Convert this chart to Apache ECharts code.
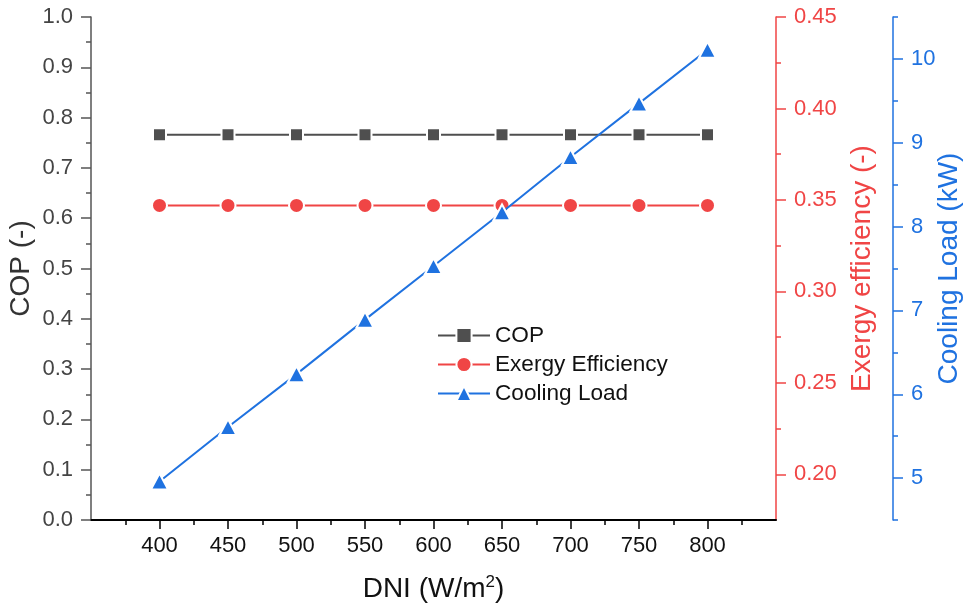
<!DOCTYPE html>
<html>
<head>
<meta charset="utf-8">
<script src="https://cdn.jsdelivr.net/npm/echarts@6/dist/echarts.min.js"></script>
<style>
html,body{margin:0;padding:0;background:#fff;overflow:hidden;width:966px;height:612px;}
#chart{width:966px;height:612px;overflow:hidden;}
</style>
</head>
<body>
<div id="chart"></div>
<script>
// ---- data ----
var dni = [400, 450, 500, 550, 600, 650, 700, 750, 800];
var cop = [0.766, 0.766, 0.766, 0.766, 0.766, 0.766, 0.766, 0.766, 0.766];
var exergy = [0.347, 0.347, 0.347, 0.347, 0.347, 0.347, 0.347, 0.347, 0.347];
var coolingLoad = [4.96, 5.61, 6.24, 6.89, 7.53, 8.17, 8.83, 9.47, 10.11];

// ---- tick labels ----
var dniTicks = [400, 450, 500, 550, 600, 650, 700, 750, 800];
var dniMinorTicks = [375, 425, 475, 525, 575, 625, 675, 725, 775, 825];
var exTicks = [0.20, 0.25, 0.30, 0.35, 0.40, 0.45];
var exMinorTicks = [0.225, 0.275, 0.325, 0.375, 0.425];
var clTicks = [5, 6, 7, 8, 9, 10];
var clMinorTicks = [4.5, 5.5, 6.5, 7.5, 8.5, 9.5, 10.5];

var FONT = '"Liberation Sans", Arial, sans-serif';
var GREY = '#4f4f4f';
var RED = '#f04545';
var BLUE = '#1f72e0';

function pairs(xs, ys) { return xs.map(function (x, i) { return [x, ys[i]]; }); }

var chart = echarts.init(document.getElementById('chart'), null, {renderer: 'canvas', width: 966, height: 612});
var option = {
  animation: false,
  backgroundColor: '#fff',
  textStyle: {fontFamily: FONT},
  grid: {left: 91, right: 190, top: 17, bottom: 92, containLabel: false, outerBoundsMode: 'none'},
  legend: {
    orient: 'vertical',
    left: 432, top: 319,
    itemWidth: 52, itemHeight: 19, itemGap: 6,
    textStyle: {fontFamily: FONT, fontSize: 22.6, color: '#111'},
    data: ['COP', 'Exergy Efficiency', 'Cooling Load']
  },
  xAxis: [{
    type: 'value', min: 350, max: 850, position: 'bottom',
    name: 'DNI (W/m{sup|2})', nameLocation: 'middle', nameGap: 54, nameMoveOverlap: false,
    nameTextStyle: {fontFamily: FONT, fontSize: 28, color: '#111',
      rich: {sup: {fontFamily: FONT, fontSize: 17, color: '#111', verticalAlign: 'top', padding: [0, 0, 14, 0]}}},
    axisLine: {show: true, onZero: false, lineStyle: {color: '#000', width: 2}},
    axisTick: {show: true, inside: false, length: 9, customValues: dniTicks, lineStyle: {color: '#000', width: 1.5}},
    axisLabel: {show: true, customValues: dniTicks, margin: 15, fontFamily: FONT, fontSize: 22, color: '#111'},
    splitLine: {show: false}
  }, {
    type: 'value', min: 350, max: 850, position: 'bottom',
    axisLine: {show: false},
    axisTick: {show: true, inside: false, length: 5, customValues: dniMinorTicks, lineStyle: {color: '#000', width: 1.5}},
    axisLabel: {show: false},
    splitLine: {show: false}
  }],
  yAxis: [{
    type: 'value', min: 0, max: 1, interval: 0.1, position: 'left',
    name: 'COP (-)', nameLocation: 'middle', nameGap: 56, nameRotate: 90, nameMoveOverlap: false,
    nameTextStyle: {fontFamily: FONT, fontSize: 28, color: '#333'},
    axisLine: {show: true, onZero: false, lineStyle: {color: '#555', width: 1.5}},
    axisTick: {show: true, inside: false, length: 10, lineStyle: {color: '#555', width: 1.5}},
    minorTick: {show: true, splitNumber: 2, length: 5, lineStyle: {color: '#555', width: 1.5}},
    axisLabel: {margin: 18, fontFamily: FONT, fontSize: 22, color: '#444',
      formatter: function (v) { return v.toFixed(1); }},
    splitLine: {show: false}, minorSplitLine: {show: false}
  }, {
    type: 'value', min: 0.175, max: 0.45, position: 'right', offset: 0,
    name: 'Exergy efficiency (-)', nameLocation: 'middle', nameGap: 72, nameRotate: 90, nameMoveOverlap: false,
    nameTextStyle: {fontFamily: FONT, fontSize: 28, color: RED},
    axisLine: {show: true, onZero: false, lineStyle: {color: RED, width: 1.5}},
    axisTick: {show: true, inside: false, length: 10, customValues: exTicks, lineStyle: {color: RED, width: 1.5}},
    axisLabel: {customValues: exTicks, margin: 18, fontFamily: FONT, fontSize: 22, color: RED,
      formatter: function (v) { return v.toFixed(2); }},
    splitLine: {show: false}
  }, {
    type: 'value', min: 0.175, max: 0.45, position: 'right', offset: 0,
    axisLine: {show: false},
    axisTick: {show: true, inside: false, length: 5, customValues: exMinorTicks, lineStyle: {color: RED, width: 1.5}},
    axisLabel: {show: false},
    splitLine: {show: false}
  }, {
    type: 'value', min: 4.5, max: 10.5, position: 'right', offset: 117,
    name: 'Cooling Load (kW)', nameLocation: 'middle', nameGap: 42, nameRotate: 90, nameMoveOverlap: false,
    nameTextStyle: {fontFamily: FONT, fontSize: 28, color: BLUE},
    axisLine: {show: true, onZero: false, lineStyle: {color: BLUE, width: 1.5}},
    axisTick: {show: true, inside: false, length: 10, customValues: clTicks, lineStyle: {color: BLUE, width: 1.5}},
    axisLabel: {customValues: clTicks, margin: 18, fontFamily: FONT, fontSize: 22, color: BLUE},
    splitLine: {show: false}
  }, {
    type: 'value', min: 4.5, max: 10.5, position: 'right', offset: 117,
    axisLine: {show: false},
    axisTick: {show: true, inside: false, length: 5, customValues: clMinorTicks, lineStyle: {color: BLUE, width: 1.5}},
    axisLabel: {show: false},
    splitLine: {show: false}
  }],
  series: [{
    name: 'COP', type: 'line', xAxisIndex: 0, yAxisIndex: 0,
    data: pairs(dni, cop),
    symbol: 'rect', symbolSize: 13,
    lineStyle: {color: GREY, width: 2},
    itemStyle: {color: GREY, borderColor: '#fff', borderWidth: 2},
    z: 3
  }, {
    name: 'Exergy Efficiency', type: 'line', xAxisIndex: 0, yAxisIndex: 1,
    data: pairs(dni, exergy),
    symbol: 'circle', symbolSize: 15,
    lineStyle: {color: RED, width: 2},
    itemStyle: {color: RED, borderColor: '#fff', borderWidth: 2},
    z: 4
  }, {
    name: 'Cooling Load', type: 'line', xAxisIndex: 0, yAxisIndex: 3,
    data: pairs(dni, coolingLoad),
    symbol: 'triangle', symbolSize: [17, 16],
    lineStyle: {color: BLUE, width: 2},
    itemStyle: {color: BLUE, borderColor: '#fff', borderWidth: 2},
    z: 5
  }]
};
chart.setOption(option);
</script>
</body>
</html>
